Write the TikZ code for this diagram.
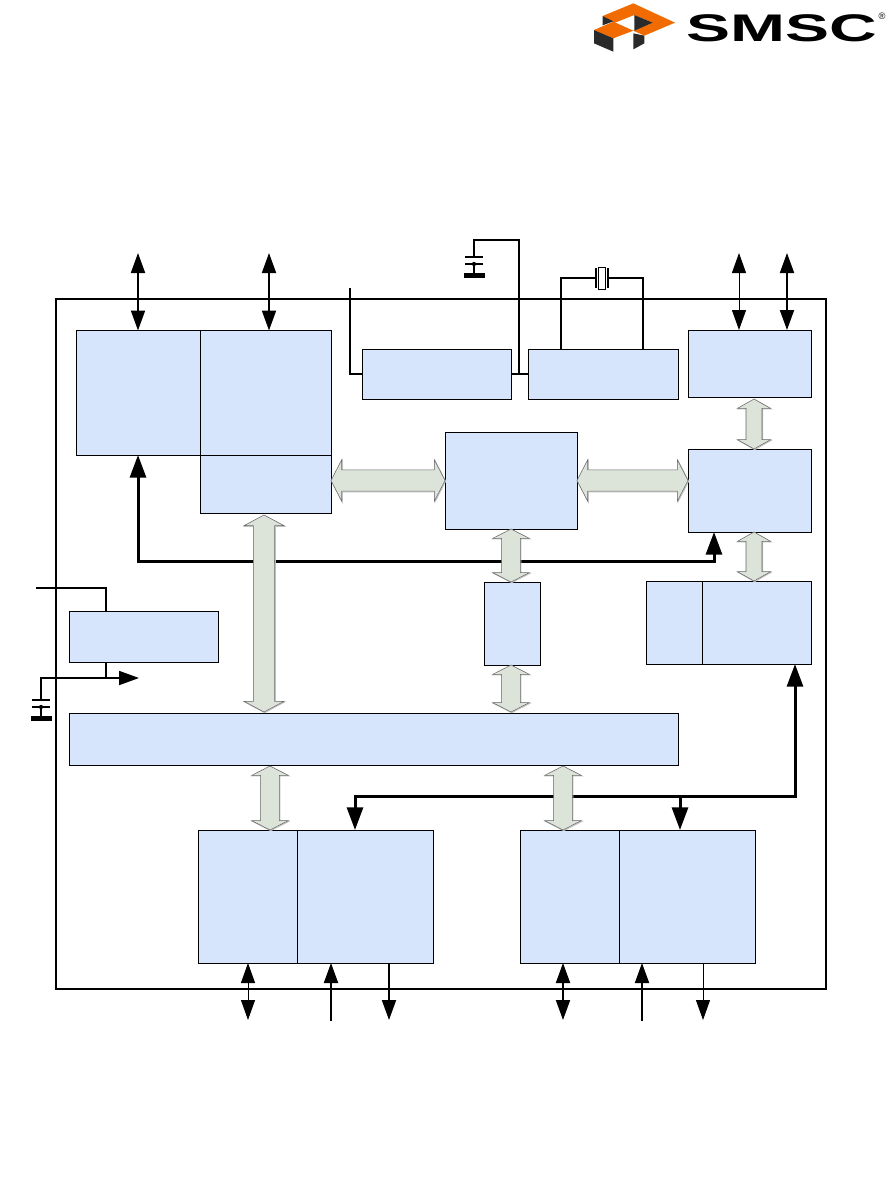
\documentclass[tikz,border=0pt]{standalone}
\usepackage{fontspec}
\newfontfamily\logofont{Liberation Sans}
\usetikzlibrary{arrows.meta, calc}
\definecolor{blkfill}{HTML}{D7E5FC}
\definecolor{busfill}{HTML}{DCE3D9}
\definecolor{logoorange}{HTML}{F26B00}
\definecolor{logodark}{HTML}{2A2A2A}
\tikzset{%
  blk/.style={draw, fill=blkfill, line width=0.75pt, inner sep=0pt, outer sep=0pt},
  wire/.style={line width=1.4pt},
  thinwire/.style={line width=0.75pt},
  thickwire/.style={line width=2.25pt, >={Triangle[length=17pt,width=12pt]}},
  bus/.style n args={3}{draw=black!60, fill=busfill, line width=0.4pt,
    preaction={draw=black!25, line width=0.7pt, transform canvas={shift={(0.5pt,-0.5pt)}}},
    to path={(\tikztostart)
      -- ($(\tikztostart)!#1!(\tikztotarget)!#2!90:(\tikztotarget)$)
      -- ($(\tikztostart)!#1!(\tikztotarget)!#3!90:(\tikztotarget)$)
      -- ($(\tikztotarget)!#1!(\tikztostart)!#3!-90:(\tikztostart)$)
      -- ($(\tikztotarget)!#1!(\tikztostart)!#2!-90:(\tikztostart)$)
      -- (\tikztotarget)
      -- ($(\tikztotarget)!#1!(\tikztostart)!#2!90:(\tikztostart)$)
      -- ($(\tikztotarget)!#1!(\tikztostart)!#3!90:(\tikztostart)$)
      -- ($(\tikztostart)!#1!(\tikztotarget)!#3!-90:(\tikztotarget)$)
      -- ($(\tikztostart)!#1!(\tikztotarget)!#2!-90:(\tikztotarget)$)
      -- cycle}},
  capgnd/.pic={
    \draw[line width=1pt] (-9,0) -- (9,0);
    \draw[line width=1pt] (-9,7) -- (9,7);
    \fill (0,7) circle (1.6pt);
    \draw[line width=1pt] (0,7) -- (0,18);
    \draw[line width=3.75pt] (-10,18) -- (11,18);
  },
}
% block given by its corners, in pixels of the page
\newcommand{\blk}[5]{\node[blk, minimum width={(#4-#2)*0.75pt}, minimum height={(#5-#3)*0.75pt}] (#1) at ({(#2+#4)/2},{(#3+#5)/2}) {};}

\begin{document}
\begin{tikzpicture}[x=0.75pt, y=-0.75pt, >={Triangle[length=15pt,width=10.5pt]}]
\useasboundingbox (0,0) rectangle (894,1183);

% chip outline
\node[draw, line width=1.2pt, inner sep=0pt, outer sep=0pt, minimum width=577.5pt, minimum height=517.5pt] (chip) at (441,644) {};

% logo
\begin{scope}[shift={(580,0)}, x=0.25pt, y=-0.25pt]
\fill[logoorange] (68,48) -- (160,10) -- (285,68) -- (193,107) -- (160,92) -- (218,68) -- (163,45) -- (105,68) -- cycle;
\fill[logoorange] (42,90) -- (100,65) -- (160,92) -- (100,115) -- cycle;
\fill[logodark] (68,48) -- (100,64) -- (68,76) -- cycle;
\fill[logodark] (163,45) -- (218,68) -- (163,92) -- cycle;
\fill[logodark] (42,90) -- (100,115) -- (100,155) -- (42,130) -- cycle;
\fill[logodark] (160,100) -- (193,107) -- (193,130) -- (160,148) -- cycle;
\end{scope}
\node[inner sep=0pt, xscale=1.8, yscale=1.05] (logoname) at (782,28.5) {\logofont\bfseries\fontsize{27.5}{27.5}\selectfont SMSC};
\node[inner sep=0pt] (logomark) at (882,16) {\logofont\fontsize{7}{7}\selectfont ®};

% blocks
\blk{A}{76.5}{330.5}{200.5}{455}
\blk{B}{200.5}{330.5}{331}{455}
\blk{Bb}{200.5}{455}{331}{513}
\blk{C}{362}{349}{511}{399}
\blk{D}{528}{349}{678}{399}
\blk{E}{688}{330}{811}{397}
\blk{F}{445}{432}{577}{529}
\blk{G}{688}{449}{811}{532}
\blk{H}{646}{581}{702}{664}
\blk{I}{702}{581}{811}{664}
\blk{J}{484}{582}{540}{665}
\blk{K}{69}{611}{218}{662}
\blk{L}{69}{713}{678}{765}
\blk{Ma}{198}{830}{297}{963}
\blk{Mb}{297}{830}{433}{963}
\blk{Na}{520}{830}{619}{963}
\blk{Nb}{619}{830}{755}{963}

% free ends of the connectors
\coordinate (p1) at (138,253);
\coordinate (p2) at (269,253);
\coordinate (p3) at (739,253);
\coordinate (p4) at (787,253);
\coordinate (q1) at (248,1020);
\coordinate (q2) at (331,1021);
\coordinate (q3) at (389,1020);
\coordinate (q4) at (563,1020);
\coordinate (q5) at (642,1021);
\coordinate (q6) at (703,1020);
\coordinate (n1) at (138,561);
\coordinate (n2) at (714,561);
\coordinate (m1) at (355,796);
\coordinate (m2) at (795,796);
\coordinate (m3) at (680,796);
\coordinate (c1) at (474,257);
\coordinate (c2) at (41,700);
\coordinate (j1) at (519,240);
\coordinate (s1) at (350,288);
\coordinate (x1) at (561,278);
\coordinate (x2) at (643,278);
\coordinate (xl) at (596,278);
\coordinate (xr) at (608,278);
\coordinate (k1) at (36,588);
\coordinate (k2) at (106,588);
\coordinate (k3) at (106,678);
\coordinate (k4) at (139,678);

% pins top and bottom
\draw[wire, <->] (p1) -- (p1 |- A.north);
\draw[wire, <->] (p2) -- (p2 |- B.north);
\draw[thinwire, <->] (p3) -- (p3 |- E.north);
\draw[wire, <->] (p4) -- (p4 |- E.north);
\draw[thinwire, <->] (q1) -- (q1 |- Ma.south);
\draw[wire, ->] (q2) -- (q2 |- Mb.south);
\draw[wire, ->] (q3 |- Mb.south) -- (q3);
\draw[wire, <->] (q4) -- (q4 |- Na.south);
\draw[wire, ->] (q5) -- (q5 |- Nb.south);
\draw[thinwire, ->] (q6 |- Nb.south) -- (q6);

% heavy lines
\draw[thickwire, <->] (n1 |- A.south) -- (n1) -- (n2) -- (n2 |- G.south);
\draw[thickwire, <->] (m1 |- Mb.north) -- (m1) -- (m2) -- (m2 |- I.south);
\draw[thickwire, ->] (m3) -- (m3 |- Nb.north);

% top supply and capacitor
\draw[wire] (C.east) -- (D.west);
\draw[wire] (j1 |- C.east) -- (j1) -| (c1);
\pic at (c1) {capgnd};
\draw[wire] (s1) |- (C.west);

% crystal
\node[draw, fill=white, line width=0.75pt, inner sep=0pt, minimum width=5.25pt, minimum height=16.5pt] (xtal) at (601.5,278) {};
\draw[wire] (x1 |- D.north) -- (x1) -- (xl);
\draw[wire] (x2 |- D.north) -- (x2) -- (xr);
\draw[wire] ($(xl)+(0,-10)$) -- ($(xl)+(0,10)$);
\draw[wire] ($(xr)+(0,-10)$) -- ($(xr)+(0,10)$);

% regulator wires on the left
\draw[wire] (k1) -- (k2) -- (k2 |- K.north);
\draw[wire] (k2 |- K.south) -- (k3);
\draw[wire, ->] (c2) |- (k4);
\pic at (c2) {capgnd};

% wide buses
\coordinate (b1) at (264,0);
\coordinate (b2) at (754,0);
\coordinate (b3) at (511,0);
\coordinate (b4) at (270,0);
\coordinate (b5) at (563,0);
\draw[bus={8pt}{15.5pt}{8pt}] (Bb.east |- F.west) to (F.west);
\draw[bus={8pt}{15.5pt}{8pt}] (F.east) to (G.west |- F.east);
\draw[bus={8pt}{15pt}{8pt}] ($(b1 |- Bb.south)+(0,2)$) to ($(b1 |- L.north)+(0,-1)$);
\draw[bus={7pt}{12.4pt}{6pt}] ($(b2 |- E.south)+(0,2)$) to (b2 |- G.north);
\draw[bus={7pt}{12.4pt}{6pt}] (b2 |- G.south) to (b2 |- I.north);
\draw[bus={7pt}{13.7pt}{7pt}] (b3 |- F.south) to (b3 |- J.north);
\draw[bus={7pt}{13.7pt}{7pt}] (b3 |- J.south) to ($(b3 |- L.north)+(0,-1)$);
\draw[bus={7pt}{13.7pt}{7pt}] ($(b4 |- L.south)+(0,1)$) to (b4 |- Ma.north);
\draw[bus={7pt}{13.7pt}{7pt}] ($(b5 |- L.south)+(0,1)$) to (b5 |- Na.north);

\end{tikzpicture}
\end{document}
